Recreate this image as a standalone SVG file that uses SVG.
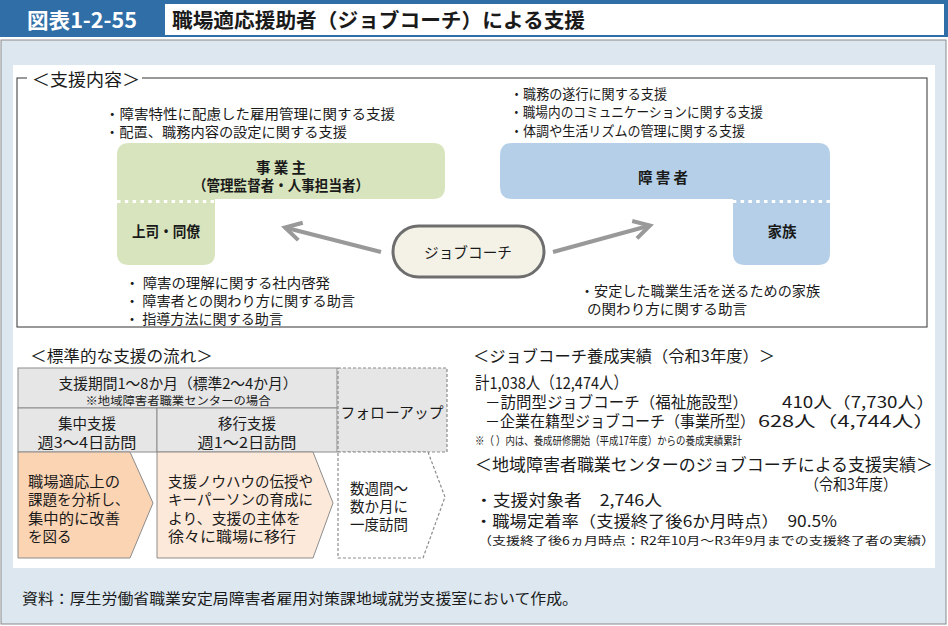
<svg xmlns="http://www.w3.org/2000/svg" width="948" height="626" viewBox="0 0 948 626">
<defs>
<style>
text{font-family:"Noto Sans CJK JP","Noto Sans",sans-serif;fill:#1a1a1a;dominant-baseline:central}
.b{font-weight:bold}
.c{text-anchor:middle}
.s14{font-size:13.5px}
.s15{font-size:14.5px}
.s16{font-size:15.5px}
.s17{font-size:16.5px}
.s12{font-size:11.5px}
.cell{fill:#e6e6e6;stroke:#8c8c8c;stroke-width:1}
.dash{stroke:#8c8c8c;stroke-width:1.2;stroke-dasharray:3 2}
.arrow{stroke:#999;stroke-width:4;fill:none}
</style>
<marker id="ah" viewBox="-20 -12 24 24" markerWidth="24" markerHeight="24" refX="0" refY="0" orient="auto" markerUnits="userSpaceOnUse" overflow="visible">
<path d="M-16,-9 L0,0 L-16,9" fill="none" stroke="#999" stroke-width="4" stroke-linejoin="miter"/>
</marker>
</defs>

<!-- header -->
<g id="header">
<rect x="0" y="0" width="948" height="37" fill="#2f6ea6"/>
<rect x="165" y="4" width="779" height="31" fill="#ffffff"/>
<text x="82" y="19" class="b c" style="font-size:21px;fill:#ffffff" textLength="110" lengthAdjust="spacingAndGlyphs">図表1-2-55</text>
<text x="172" y="19" class="b" style="font-size:20px" textLength="413" lengthAdjust="spacingAndGlyphs">職場適応援助者（ジョブコーチ）による支援</text>
</g>

<!-- panel -->
<rect x="1" y="40" width="945" height="584" fill="#dce7f0" stroke="#8a8a8a" stroke-width="1"/>
<rect x="13" y="65" width="922" height="503" fill="#ffffff"/>

<!-- support content frame -->
<g id="frame">
<rect x="17" y="78" width="910" height="249" fill="none" stroke="#333" stroke-width="1"/>
<rect x="27" y="70" width="115" height="18" fill="#ffffff"/>
<text x="32" y="79" class="s17" textLength="108" lengthAdjust="spacingAndGlyphs">＜支援内容＞</text>
</g>

<g id="employer-notes">
<text x="105" y="113" class="s14" textLength="290" lengthAdjust="spacingAndGlyphs">・障害特性に配慮した雇用管理に関する支援</text>
<text x="105" y="131" class="s14" textLength="242" lengthAdjust="spacingAndGlyphs">・配置、職務内容の設定に関する支援</text>
</g>

<g id="employer">
<path d="M129,143 H433 Q445,143 445,155 V187 Q445,199 433,199 H215 V253 Q215,265 203,265 H129 Q117,265 117,253 V155 Q117,143 129,143 Z" fill="#d7e4bd"/>
<line x1="117" y1="201.5" x2="224" y2="201.5" stroke="#ffffff" stroke-width="3" stroke-dasharray="3.5 4.3"/>
<text x="281" y="166" class="b c s15">事 業 主</text>
<text x="281" y="184" class="b c s15" textLength="176" lengthAdjust="spacingAndGlyphs">（管理監督者・人事担当者）</text>
<text x="166" y="230" class="b c s15" textLength="68" lengthAdjust="spacingAndGlyphs">上司・同僚</text>
</g>

<g id="employer-bottom-notes">
<text x="125" y="282" class="s14" textLength="205" lengthAdjust="spacingAndGlyphs">・ 障害の理解に関する社内啓発</text>
<text x="125" y="300" class="s14" textLength="230" lengthAdjust="spacingAndGlyphs">・ 障害者との関わり方に関する助言</text>
<text x="125" y="318" class="s14" textLength="158" lengthAdjust="spacingAndGlyphs">・ 指導方法に関する助言</text>
</g>

<g id="person-notes">
<text x="510" y="93" class="s14" textLength="157" lengthAdjust="spacingAndGlyphs">・職務の遂行に関する支援</text>
<text x="510" y="111" class="s14" textLength="253" lengthAdjust="spacingAndGlyphs">・職場内のコミュニケーションに関する支援</text>
<text x="510" y="130" class="s14" textLength="235" lengthAdjust="spacingAndGlyphs">・体調や生活リズムの管理に関する支援</text>
</g>

<g id="person">
<path d="M512,143 H818 Q830,143 830,155 V253 Q830,265 818,265 H745 Q733,265 733,253 V199 H512 Q500,199 500,187 V155 Q500,143 512,143 Z" fill="#b4cfe7"/>
<line x1="725" y1="201.5" x2="830" y2="201.5" stroke="#ffffff" stroke-width="3" stroke-dasharray="3.5 4.3"/>
<text x="663" y="176" class="b c s15">障 害 者</text>
<text x="782" y="230" class="b c s15">家族</text>
</g>

<g id="family-notes">
<text x="580" y="290" class="s14" textLength="240" lengthAdjust="spacingAndGlyphs">・安定した職業生活を送るための家族</text>
<text x="587" y="308" class="s14" textLength="160" lengthAdjust="spacingAndGlyphs">の関わり方に関する助言</text>
</g>

<g id="jobcoach">
<rect x="393" y="226" width="151" height="51" rx="25.5" fill="#f4f2e6" stroke="#6e6e6e" stroke-width="3"/>
<text x="468" y="251" class="c s15" textLength="88" lengthAdjust="spacingAndGlyphs">ジョブコーチ</text>
</g>

<g id="connectors">
<line x1="381" y1="252" x2="285" y2="227.5" class="arrow" marker-end="url(#ah)"/>
<line x1="553" y1="252" x2="650" y2="225.5" class="arrow" marker-end="url(#ah)"/>
</g>

<!-- standard flow -->
<g id="flow-title">
<text x="30" y="355" class="s16" textLength="183" lengthAdjust="spacingAndGlyphs">＜標準的な支援の流れ＞</text>
</g>
<g id="period">
<rect x="18" y="368" width="319" height="40" class="cell"/>
<text x="178" y="382" class="c s15" textLength="239" lengthAdjust="spacingAndGlyphs">支援期間1～8か月（標準2～4か月）</text>
<text x="178" y="400" class="c s12" textLength="185" lengthAdjust="spacingAndGlyphs">※地域障害者職業センターの場合</text>
</g>
<g id="intensive">
<rect x="18" y="408" width="139" height="44" class="cell"/>
<text x="87" y="422" class="c s15">集中支援</text>
<text x="87" y="441" class="c s15" textLength="99" lengthAdjust="spacingAndGlyphs">週3～4日訪問</text>
</g>
<g id="transition">
<rect x="157" y="408" width="180" height="44" class="cell"/>
<text x="247" y="422" class="c s15">移行支援</text>
<text x="247" y="441" class="c s15" textLength="99" lengthAdjust="spacingAndGlyphs">週1～2日訪問</text>
</g>
<g id="followup">
<rect x="338" y="368" width="109" height="84" fill="#e6e6e6" class="dash"/>
<text x="392" y="411" class="c s15" textLength="103" lengthAdjust="spacingAndGlyphs">フォローアップ</text>
</g>
<g id="step1">
<polygon points="18,452 130,452 153,503 130,558 18,558" fill="#fbd4b4" stroke="#8c8c8c" stroke-width="1"/>
<text x="28" y="480" class="s15" textLength="92" lengthAdjust="spacingAndGlyphs">職場適応上の</text>
<text x="28" y="498" class="s15">課題を分析し、</text>
<text x="28" y="517" class="s15" textLength="92" lengthAdjust="spacingAndGlyphs">集中的に改善</text>
<text x="28" y="535" class="s15">を図る</text>
</g>
<g id="step2">
<polygon points="157,452 313,452 333,503 313,558 157,558" fill="#fde9d9" stroke="#8c8c8c" stroke-width="1"/>
<text x="168" y="480" class="s15" textLength="145" lengthAdjust="spacingAndGlyphs">支援ノウハウの伝授や</text>
<text x="168" y="498" class="s15" textLength="145" lengthAdjust="spacingAndGlyphs">キーパーソンの育成に</text>
<text x="168" y="517" class="s15" textLength="133" lengthAdjust="spacingAndGlyphs">より、支援の主体を</text>
<text x="168" y="535" class="s15" textLength="128" lengthAdjust="spacingAndGlyphs">徐々に職場に移行</text>
</g>
<g id="step3">
<polygon points="338,452 428,452 445,497 423,558 338,558" fill="#ffffff" class="dash"/>
<text x="350" y="487" class="s15">数週間～</text>
<text x="350" y="505" class="s15">数か月に</text>
<text x="350" y="523" class="s15">一度訪問</text>
</g>

<!-- results -->
<g id="training">
<text x="473" y="355" class="s16" textLength="302" lengthAdjust="spacingAndGlyphs">＜ジョブコーチ養成実績（令和3年度）＞</text>
<text x="475" y="382" class="s17" textLength="153" lengthAdjust="spacingAndGlyphs">計1,038人（12,474人）</text>
<text x="485" y="401" class="s16" textLength="263" lengthAdjust="spacingAndGlyphs">－訪問型ジョブコーチ（福祉施設型）</text>
<text x="782" y="401" class="s16" textLength="153" lengthAdjust="spacingAndGlyphs">410人（7,730人）</text>
<text x="485" y="420" class="s16" textLength="270" lengthAdjust="spacingAndGlyphs">－企業在籍型ジョブコーチ（事業所型）</text>
<text x="758" y="420" class="s16" textLength="177" lengthAdjust="spacingAndGlyphs">628人（4,744人）</text>
<text x="475" y="440" class="s12" textLength="267" lengthAdjust="spacingAndGlyphs">※（ ）内は、養成研修開始（平成17年度）からの養成実績累計</text>
</g>
<g id="center-results">
<text x="475" y="464" class="s17" textLength="458" lengthAdjust="spacingAndGlyphs">＜地域障害者職業センターのジョブコーチによる支援実績＞</text>
<text x="805" y="483" class="s16" textLength="92" lengthAdjust="spacingAndGlyphs">（令和3年度）</text>
<text x="475" y="499" class="s16" textLength="187" lengthAdjust="spacingAndGlyphs">・支援対象者　2,746人</text>
<text x="475" y="520" class="s16" textLength="362" lengthAdjust="spacingAndGlyphs">・職場定着率（支援終了後6か月時点）　90.5%</text>
<text x="478" y="540" class="s12" textLength="457" lengthAdjust="spacingAndGlyphs">（支援終了後6ヵ月時点：R2年10月～R3年9月までの支援終了者の実績）</text>
</g>

<g id="source">
<text x="22" y="597" class="s15" textLength="556" lengthAdjust="spacingAndGlyphs">資料：厚生労働省職業安定局障害者雇用対策課地域就労支援室において作成。</text>
</g>
</svg>
